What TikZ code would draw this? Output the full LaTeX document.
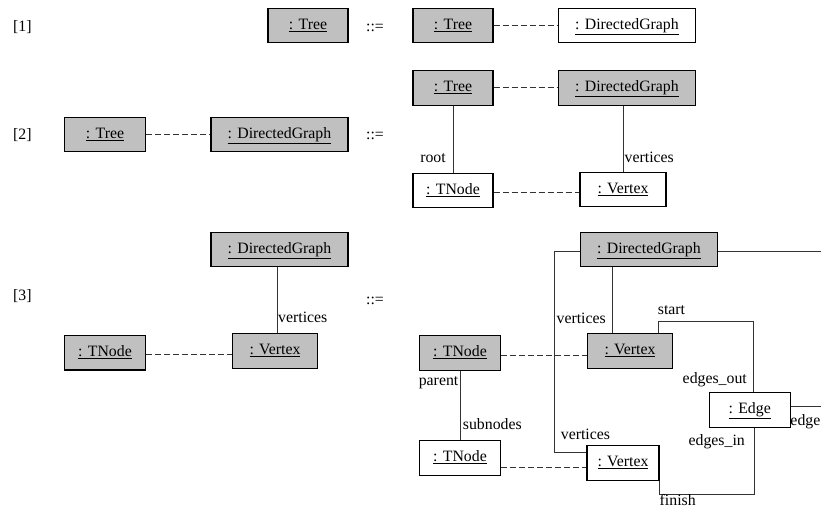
\documentclass[tikz,border=0pt]{standalone}
\usepackage{fontspec}
\setmainfont{Liberation Serif}
\begin{document}
\begin{tikzpicture}[x=1pt,y=-1pt,
  every node/.style={font=\fontsize{15.8}{18}\selectfont},
  obj/.style={draw=black,line width=1.2pt,minimum height=34.6pt,inner sep=0pt,anchor=center,text height=10pt,text depth=2.4pt},
  gobj/.style={obj,fill=boxgray},
  wobj/.style={obj,fill=white},
  lbl/.style={inner sep=0pt},
  link/.style={draw=linkgray,line width=1pt},
  dlink/.style={link,dash pattern=on 6pt off 3pt}
]
\definecolor{boxgray}{HTML}{C0C0C0}
\definecolor{linkgray}{HTML}{333333}
\useasboundingbox (0,0) rectangle (821,508);
\clip (0,0) rectangle (821,508);
\fill[white] (0,0) rectangle (821,508);
\coordinate (offR) at (840,0);

% labels
\node[lbl,anchor=west] (n1) at (13,27) {[1]};
\node[lbl,anchor=west] (n2) at (13,135) {[2]};
\node[lbl,anchor=west] (n3) at (13,296) {[3]};
\node[lbl] (d1) at (375,28) {::=};
\node[lbl] (d2) at (375,136) {::=};
\node[lbl] (d3) at (375,301) {::=};

% row 1
\node[gobj,minimum width=80pt] (r1a) at (308,25.5) {\underline{: Tree}};
\node[gobj,minimum width=80pt] (r1b) at (453,25.5) {\underline{: Tree}};
\node[wobj,minimum width=137pt] (r1c) at (627,25.5) {\underline{: DirectedGraph}};
\draw[dlink] (r1b.east) -- (r1c.west);

% row 2 left
\node[gobj,minimum width=81pt] (r2a) at (105,134.5) {\underline{: Tree}};
\node[gobj,minimum width=137pt] (r2b) at (279.5,134.5) {\underline{: DirectedGraph}};
\draw[dlink] (r2a.east) -- (r2b.west);

% row 2 right
\node[gobj,minimum width=80pt] (r2c) at (453,88) {\underline{: Tree}};
\node[gobj,minimum width=137pt] (r2d) at (627,88) {\underline{: DirectedGraph}};
\node[wobj,minimum width=80pt] (r2e) at (453,190.5) {\underline{: TNode}};
\node[wobj,minimum width=86pt] (r2f) at (623,189.5) {\underline{: Vertex}};
\draw[dlink] (r2c.east) -- (r2d.west);
\draw[link] (r2c.south) -- (r2e.north);
\draw[link] (r2f.north |- r2d.south) -- (r2f.north);
\draw[dlink] (r2e.east |- 0,192) -- (r2f.west |- 0,192);
\node[lbl] (l1) at (433,158) {root};
\node[lbl,anchor=west] (l2) at (624.5,157) {vertices};

% row 3 left
\node[gobj,minimum width=137pt] (r3a) at (279.5,249.5) {\underline{: DirectedGraph}};
\node[gobj,minimum width=85pt] (r3b) at (275,351) {\underline{: Vertex}};
\node[gobj,minimum width=81pt] (r3c) at (105,352.7) {\underline{: TNode}};
\draw[link] (r3a.south -| 277,0) -- (r3b.north -| 277,0);
\draw[dlink] (r3c.east |- 0,354.5) -- (r3b.west |- 0,354.5);
\node[lbl,anchor=west] (l3) at (278,317) {vertices};

% row 3 right
\node[gobj,minimum width=137pt] (r3d) at (649,249.5) {\underline{: DirectedGraph}};
\node[gobj,minimum width=85pt] (r3e) at (630,351) {\underline{: Vertex}};
\node[gobj,minimum width=81pt] (r3f) at (460,353) {\underline{: TNode}};
\node[wobj,minimum width=81pt] (r3g) at (460,458) {\underline{: TNode}};
\node[wobj,minimum width=72pt] (r3h) at (623,463) {\underline{: Vertex}};
\node[wobj,minimum width=81pt] (r3i) at (749.7,410) {\underline{: Edge}};

\coordinate (vl) at (554.3,452.7);
\draw[link] (r3d.west |- 0,251.7) -| (vl) -- (vl -| r3h.west);
\draw[link] (r3d.east |- 0,251.7) -- (offR |- 0,251.7);
\draw[link] (r3d.south -| 612,0) -- (r3e.north -| 612,0);
\draw[dlink] (r3f.east |- 0,355) -- (r3e.west |- 0,355);
\draw[link] (r3f.south) -- (r3g.north);
\draw[dlink] (r3g.east |- 0,467.3) -- (r3h.west |- 0,467.3);
\coordinate (s1) at (658.3,321.7);
\coordinate (s2) at (753.3,321.7);
\draw[link] (r3e.north -| s1) -- (s1) -- (s2) -- (r3i.north -| s2);
\coordinate (f1) at (659.7,494);
\coordinate (f2) at (754,494);
\draw[link] (r3h.south -| f1) -- (f1) -- (f2) -- (r3i.south -| f2);
\draw[link] (r3i.east |- 0,406.7) -- (offR |- 0,406.7);

\node[lbl,anchor=east] (l4) at (606,318) {vertices};
\node[lbl,anchor=west] (l5) at (657.7,310) {start};
\node[lbl,anchor=east] (l6) at (747,380) {edges\_out};
\node[lbl,anchor=east] (l7) at (458.5,383) {parent};
\node[lbl,anchor=west] (l8) at (462.7,424) {subnodes};
\node[lbl,anchor=west] (l9) at (560.7,434) {vertices};
\node[lbl,anchor=east] (l10) at (745,441.7) {edges\_in};
\node[lbl,anchor=east] (l11) at (820.5,421.7) {edge};
\node[lbl,anchor=base west] (l12) at (659.5,505) {finish};
\end{tikzpicture}
\end{document}
